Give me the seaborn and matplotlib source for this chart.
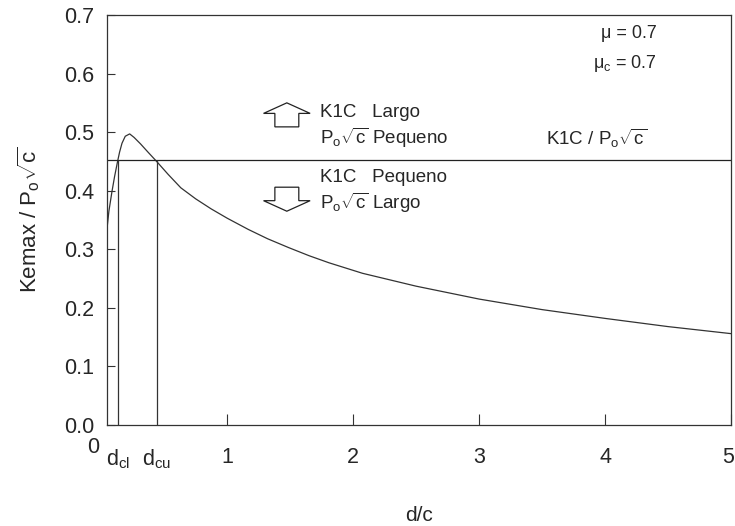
import matplotlib
matplotlib.use('Agg')
import matplotlib.pyplot as plt
from matplotlib.patches import FancyArrow
from matplotlib.transforms import ScaledTranslation
import pandas as pd
import seaborn as sns

# curve
d_c = [0.045, 0.06, 0.084, 0.105, 0.129, 0.145, 0.164, 0.19, 0.225, 0.26, 0.311, 0.37,
       0.439, 0.53, 0.631, 0.75, 0.872, 1.0, 1.166, 1.32, 1.486, 1.65, 1.807, 2.074,
       2.5, 3.0, 3.5, 4.0, 4.5, 5.0]
kemax = [0.335, 0.365, 0.398, 0.424, 0.45, 0.466, 0.481, 0.493, 0.497, 0.491, 0.48, 0.466,
         0.45, 0.428, 0.405, 0.386, 0.369, 0.353, 0.334, 0.318, 0.303, 0.289, 0.277, 0.259,
         0.237, 0.215, 0.197, 0.182, 0.168, 0.156]

k1c_level = 0.452
d_cl = 0.129
d_cu = 0.439
x_ticks = [d_cl, d_cu, 1, 2, 3, 4, 5]
x_tick_labels = [r'd$_{\mathrm{cl}}$', r'd$_{\mathrm{cu}}$', '1', '2', '3', '4', '5']
y_ticks = [0.0, 0.1, 0.2, 0.3, 0.4, 0.5, 0.6, 0.7]

df = pd.DataFrame({'d/c': d_c, 'Kemax': kemax})

sns.set_theme(style='ticks')
plt.rcParams['font.family'] = ['Liberation Sans', 'DejaVu Sans']
plt.rcParams['mathtext.fontset'] = 'custom'
plt.rcParams['mathtext.rm'] = 'Liberation Sans'
plt.rcParams['mathtext.it'] = 'Liberation Sans:italic'
plt.rcParams['mathtext.bf'] = 'Liberation Sans:bold'

fig = plt.figure(figsize=(7.35, 5.26), dpi=100)
ax = fig.add_axes([107 / 735, 1 - 425 / 526, 624 / 735, 410 / 526])

sns.lineplot(data=df, x='d/c', y='Kemax', ax=ax, color='#333333', linewidth=0.9)
ax.axhline(k1c_level, color='#222222', linewidth=0.9)
ax.vlines([d_cl, d_cu], 0, k1c_level, color='#333333', linewidth=0.9)

ax.set_xlim(0.045, 5)
ax.set_ylim(0, 0.7)
ax.set_xticks(x_ticks)
ax.set_xticklabels(x_tick_labels)
ax.set_yticks(y_ticks)
ax.set_yticklabels([f'{v:.1f}' for v in y_ticks])
ax.tick_params(axis='both', direction='in', labelsize=15.5, color='#333333', width=0.8)
ax.tick_params(axis='x', length=8, pad=16)
ax.tick_params(axis='y', length=6, pad=9)
for t in ax.xaxis.get_major_ticks()[:2]:
    t.tick1line.set_visible(False)
# keep the "5" inside the canvas
last = ax.get_xticklabels()[-1]
last.set_transform(last.get_transform() + ScaledTranslation(-3 / 100, 0, fig.dpi_scale_trans))
for s in ax.spines.values():
    s.set_linewidth(0.9)
    s.set_color('#333333')

ax.set_xlabel('d/c', fontsize=15, labelpad=25)
ax.set_ylabel(r'Kemax / P$_\mathrm{o}\sqrt{\mathrm{c}}$', fontsize=16, labelpad=16)
ax.text(-0.015, -0.02, '0', fontsize=15.5, ha='right', va='top', clip_on=False)

# annotations
ax.text(4.413, 0.669, '\u03bc = 0.7', fontsize=13, ha='right', va='center')
ax.text(4.413, 0.618, r'$\mathrm{\mu_c}$ = 0.7', fontsize=13, ha='right', va='center')
ax.text(1.74, 0.534, 'K1C   Largo', fontsize=13.5, va='center')
ax.text(1.74, 0.49, r'P$_\mathrm{o}\sqrt{\mathrm{c}}$ Pequeno', fontsize=13.5, va='center')
ax.text(3.53, 0.49, r'K1C / P$_\mathrm{o}\sqrt{\mathrm{c}}$', fontsize=13.5, va='center')
ax.text(1.74, 0.422, 'K1C   Pequeno', fontsize=13.5, va='center')
ax.text(1.74, 0.379, r'P$_\mathrm{o}\sqrt{\mathrm{c}}$ Largo', fontsize=13.5, va='center')

arrow_kw = dict(width=0.19, head_width=0.37, head_length=0.018,
                length_includes_head=True, fc='white', ec='#222222', lw=0.9)
ax.add_patch(FancyArrow(1.473, 0.509, 0, 0.041, **arrow_kw))
ax.add_patch(FancyArrow(1.473, 0.406, 0, -0.041, **arrow_kw))

plt.savefig('out.png', dpi=100)
plt.close()
